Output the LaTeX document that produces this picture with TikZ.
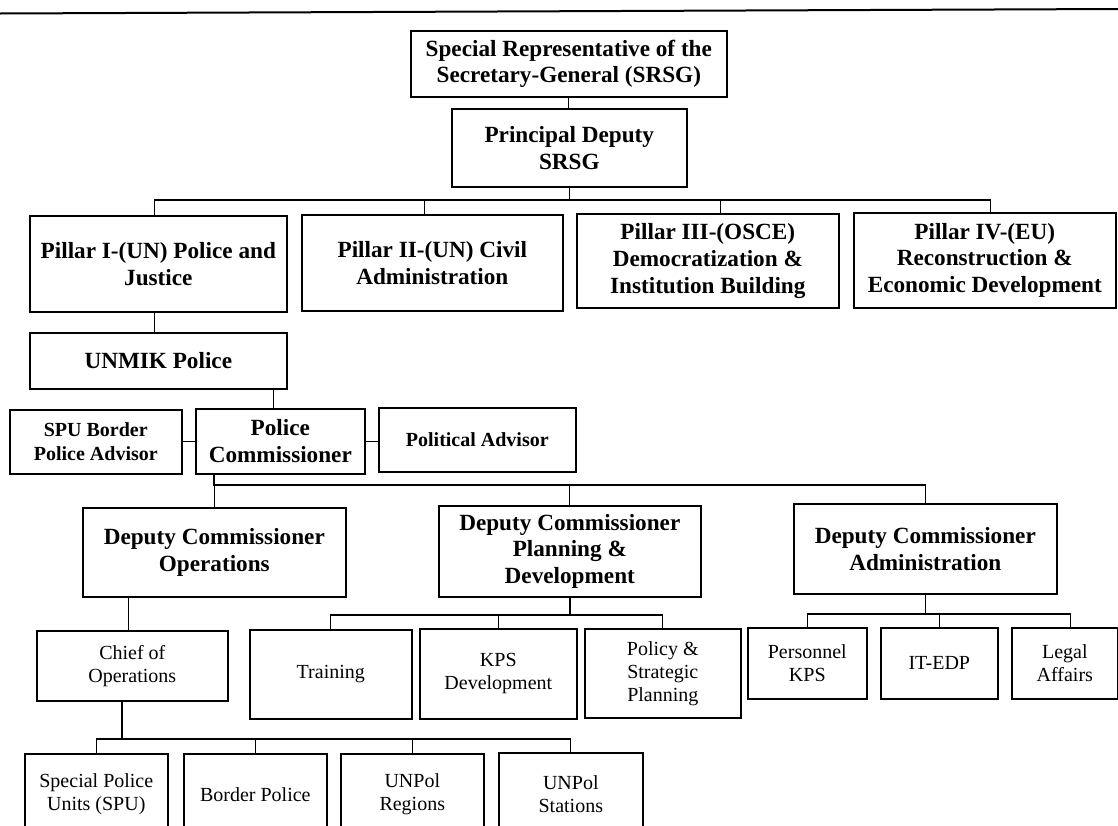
\documentclass[tikz,border=0pt]{standalone}
\usepackage{fontspec}
\setmainfont{Liberation Serif}
\usetikzlibrary{positioning, calc}

\tikzset{
    orgbox/.style n args={4}{
        draw, line width=0.8pt, anchor=north west, inner sep=1pt, align=center,
        minimum width={(#3-#1)*0.5pt}, minimum height={(#4-#2)*0.5pt}, at={(#1,#2)}
    },
    headfont/.style={font=\fontsize{11.6}{13.4}\selectfont\bfseries},
    advfont/.style={font=\fontsize{10}{11.8}\selectfont\bfseries},
    unitfont/.style={font=\fontsize{10}{11.5}\selectfont},
    link/.style={line width=0.55pt}
}

\begin{document}
\begin{tikzpicture}[x=0.5pt, y=-0.5pt]
    \useasboundingbox (0,0) rectangle (1118,825);
    \clip (0,0) rectangle (1118,825);

    % rule at the top of the page
    \draw[line width=1pt] (0,13.5) -- (1118,9);

    % --- top levels ---
    \node[orgbox={410}{30}{726}{96}, headfont] (srsg) {Special Representative of the\\Secretary-General (SRSG)};
    \node[orgbox={451}{108}{686}{186}, headfont] (pd) {Principal Deputy\\SRSG};

    % --- pillars ---
    \node[orgbox={29}{215}{286}{311}, headfont] (p1) {Pillar I-(UN) Police and\\Justice};
    \node[orgbox={301}{214}{562}{310}, headfont] (p2) {Pillar II-(UN) Civil\\Administration};
    \node[orgbox={576}{213}{838}{307}, headfont] (p3) {Pillar III-(OSCE)\\Democratization \&\\Institution Building};
    \node[orgbox={853}{212}{1115}{307}, headfont] (p4) {Pillar IV-(EU)\\Reconstruction \&\\Economic Development};

    % --- police ---
    \node[orgbox={29}{332}{286}{388}, headfont] (unmik) {UNMIK Police};
    \node[orgbox={195}{408}{364}{473}, headfont] (pc) {Police\\Commissioner};
    \node[orgbox={9}{409}{181}{473}, advfont] (spuadv) {SPU Border\\Police Advisor};
    \node[orgbox={378}{407}{575}{471}, advfont] (pol) {Political Advisor};

    % --- deputy commissioners ---
    \node[orgbox={82}{507}{345}{596}, headfont] (dco) {Deputy Commissioner\\Operations};
    \node[orgbox={438}{505}{700}{596}, headfont] (dcp) {Deputy Commissioner\\Planning \&\\Development};
    \node[orgbox={793}{503}{1056}{593}, headfont] (dca) {Deputy Commissioner\\Administration};

    % --- units ---
    \node[orgbox={36}{630}{227}{700}, unitfont] (chief) {Chief of\\Operations};
    \node[orgbox={249}{629}{411}{718}, unitfont] (train) {Training};
    \node[orgbox={419}{628}{576}{718}, unitfont] (kps) {KPS\\Development};
    \node[orgbox={584}{628}{740}{717}, unitfont] (policy) {Policy \&\\Strategic\\Planning};
    \node[orgbox={747}{627}{866}{698}, unitfont] (pers) {Personnel\\KPS};
    \node[orgbox={880}{627}{997}{698}, unitfont] (itedp) {IT-EDP};
    \node[orgbox={1011}{627}{1117}{698}, unitfont] (legal) {Legal\\Affairs};

    \node[orgbox={24}{753}{167}{834}, unitfont] (spu) {Special Police\\Units (SPU)};
    \node[orgbox={183}{753}{326}{834}, unitfont] (border) {Border Police};
    \node[orgbox={340}{753}{483}{834}, unitfont] (reg) {UNPol\\Regions};
    \node[orgbox={498}{752}{642}{834}, unitfont] (stat) {UNPol\\Stations};

    % --- connectors ---
    \coordinate (busA) at (568,200);
    \coordinate (busB) at (214,485);
    \coordinate (busC) at (570,615);
    \coordinate (busD) at (925,614);
    \coordinate (busE) at (122,739);

    \draw[link] (srsg.south) -- (srsg.south |- pd.north);
    \draw[link] (pd.south) -- (pd.south |- busA);
    \draw[link] ([xshift=-1.75pt]p1.north) |- ([xshift=3pt]p4.north |- busA) -- ([xshift=3pt]p4.north);
    \draw[link] ([xshift=-3.75pt]p2.north) -- ([xshift=-3.75pt]p2.north |- busA);
    \draw[link] ([xshift=6.5pt]p3.north) -- ([xshift=6.5pt]p3.north |- busA);

    \draw[link] ([xshift=-1.75pt]p1.south) -- ([xshift=-1.75pt]p1.south |- unmik.north);
    \draw[link] ([xshift=-3.25pt]pc.north) -- ([xshift=-3.25pt]pc.north |- unmik.south);
    \draw[link] (spuadv.east |- pc.west) -- (pc.west);
    \draw[link] (pc.east) -- (pol.west |- pc.east);

    \draw[link] (busB |- pc.south) |- (dca.north |- busB) -- (dca.north);
    \foreach \n in {dco, dcp}
        \draw[link] (\n.north) -- (\n.north |- busB);

    \draw[link] ([xshift=-1.75pt]chief.north) -- ([xshift=-1.75pt]chief.north |- dco.south);
    \draw[link] (busE |- chief.south) -- (busE);
    \draw[link] (spu.north) |- (stat.north |- busE) -- (stat.north);
    \foreach \n in {border, reg}
        \draw[link] (\n.north) -- (\n.north |- busE);

    \draw[link] (busC |- dcp.south) -- (busC);
    \draw[link] (train.north) |- (policy.north |- busC) -- (policy.north);
    \draw[link] (kps.north) -- (kps.north |- busC);

    \draw[link] (dca.south) -- (dca.south |- busD);
    \draw[link] (pers.north) |- ([xshift=3pt]legal.north |- busD) -- ([xshift=3pt]legal.north);
    \draw[link] (itedp.north) -- (itedp.north |- busD);
\end{tikzpicture}
\end{document}
